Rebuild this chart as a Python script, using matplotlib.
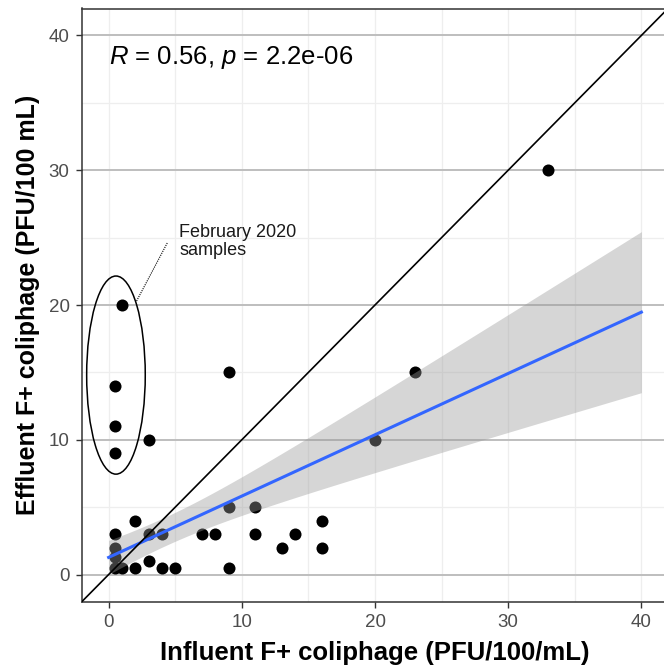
"""
plot.py - influent vs effluent F+ coliphage scatter with linear fit
"""
import matplotlib
matplotlib.use('Agg')
import matplotlib.pyplot as plt
import matplotlib.patches as mpatches
from matplotlib.ticker import MultipleLocator
import numpy as np

plt.rcParams['font.family'] = ['Liberation Sans', 'DejaVu Sans']
plt.rcParams['mathtext.fontset'] = 'custom'
plt.rcParams['mathtext.rm'] = 'Liberation Sans'
plt.rcParams['mathtext.it'] = 'Liberation Sans:italic'

# ── data (PFU/100 mL) ──────────────────────────────────────────────────────
# points drawn on top of one another are carried by `count`
influent = [33, 23, 20, 9, 1, 0.5, 0.5, 0.5, 3, 9, 11, 2, 16,
            0.5, 3, 4, 7, 8, 11, 14, 13, 16, 0.5, 0.5, 3,
            1, 2, 4, 5, 9, 0.5]
effluent = [30, 15, 10, 15, 20, 14, 11, 9, 10, 5, 5, 4, 4,
            3, 3, 3, 3, 3, 3, 3, 2, 2, 2, 1.3, 1,
            0.5, 0.5, 0.5, 0.5, 0.5, 0.5]
count    = [1, 1, 1, 1, 1, 1, 1, 1, 1, 1, 1, 1, 1,
            2, 1, 1, 1, 1, 1, 1, 2, 2, 4, 4, 1,
            3, 2, 2, 1, 1, 25]

stat_label = r'$\it{R}$ = 0.56, $\it{p}$ = 2.2e-06'
note_label = 'February 2020\nsamples'

XLIM = (-2, 42)
YLIM = (-2, 42)
T_975 = 1.997          # t quantile, 97.5 %, ~66 df

# ── colours ────────────────────────────────────────────────────────────────
FIT   = '#3366FF'
BAND  = '#999999'
FRAME = '#333333'
TICKC = '#4D4D4D'


def main():
    x = np.repeat(np.array(influent, float), count)
    y = np.repeat(np.array(effluent, float), count)

    # linear fit + 95 % confidence band
    n = len(x)
    slope, icpt = np.polyfit(x, y, 1)
    resid = y - (icpt + slope*x)
    s = np.sqrt(np.sum(resid**2) / (n - 2))
    sxx = np.sum((x - x.mean())**2)
    xs = np.linspace(0, 40, 100)
    fit = icpt + slope*xs
    se = s*np.sqrt(1/n + (xs - x.mean())**2 / sxx)

    fig = plt.figure(figsize=(6.64, 6.71), dpi=100)
    ax = fig.add_axes([82/664, 69.5/671, 586/664, 593/671])
    ax.set_xlim(*XLIM)
    ax.set_ylim(*YLIM)

    # grid
    ax.xaxis.set_major_locator(MultipleLocator(10))
    ax.yaxis.set_major_locator(MultipleLocator(10))
    ax.xaxis.set_minor_locator(MultipleLocator(5))
    ax.yaxis.set_minor_locator(MultipleLocator(5))
    ax.grid(which='minor', color='#EEEEEE', lw=0.9)
    ax.grid(which='major', axis='x', color='#EEEEEE', lw=0.9)
    ax.grid(which='major', axis='y', color='#BEBEBE', lw=1.4)
    ax.tick_params(which='minor', length=0)
    ax.set_axisbelow(True)

    ax.scatter(influent, effluent, s=75, color='black', lw=0, zorder=3)
    ax.fill_between(xs, fit - T_975*se, fit + T_975*se,
                    color=BAND, alpha=0.4, lw=0, zorder=4)
    ax.plot(xs, fit, color=FIT, lw=2.2, zorder=5)
    ax.axline((0, 0), slope=1, color='black', lw=1.2, zorder=5)

    # February 2020 group
    ax.add_patch(mpatches.Ellipse((0.55, 14.8), 4.4, 14.7, fill=False,
                                  edgecolor='black', lw=1.1, zorder=6))
    ax.plot([2.1, 4.4], [20.3, 24.6], color='black', lw=0.8,
            ls=(0, (1, 1)), zorder=6)
    ax.text(5.3, 26.0, note_label, fontsize=13, ha='left', va='top',
            color='#1A1A1A', linespacing=1.1)

    ax.text(0.0, 38.4, stat_label, fontsize=18.5, ha='left', va='center')

    for sp in ax.spines.values():
        sp.set_color(FRAME)
        sp.set_linewidth(1.1)
    ax.tick_params(which='major', length=4, width=1, color=FRAME,
                   labelsize=13.5, labelcolor=TICKC, pad=5)

    ax.set_xlabel('Influent F+ coliphage (PFU/100/mL)', fontsize=18.5,
                  fontweight='bold', labelpad=7)
    ax.set_ylabel('Effluent F+ coliphage (PFU/100 mL)', fontsize=18,
                  fontweight='bold', labelpad=6)

    fig.savefig('out.png', dpi=100, facecolor='white')
    plt.close(fig)


if __name__ == '__main__':
    main()
